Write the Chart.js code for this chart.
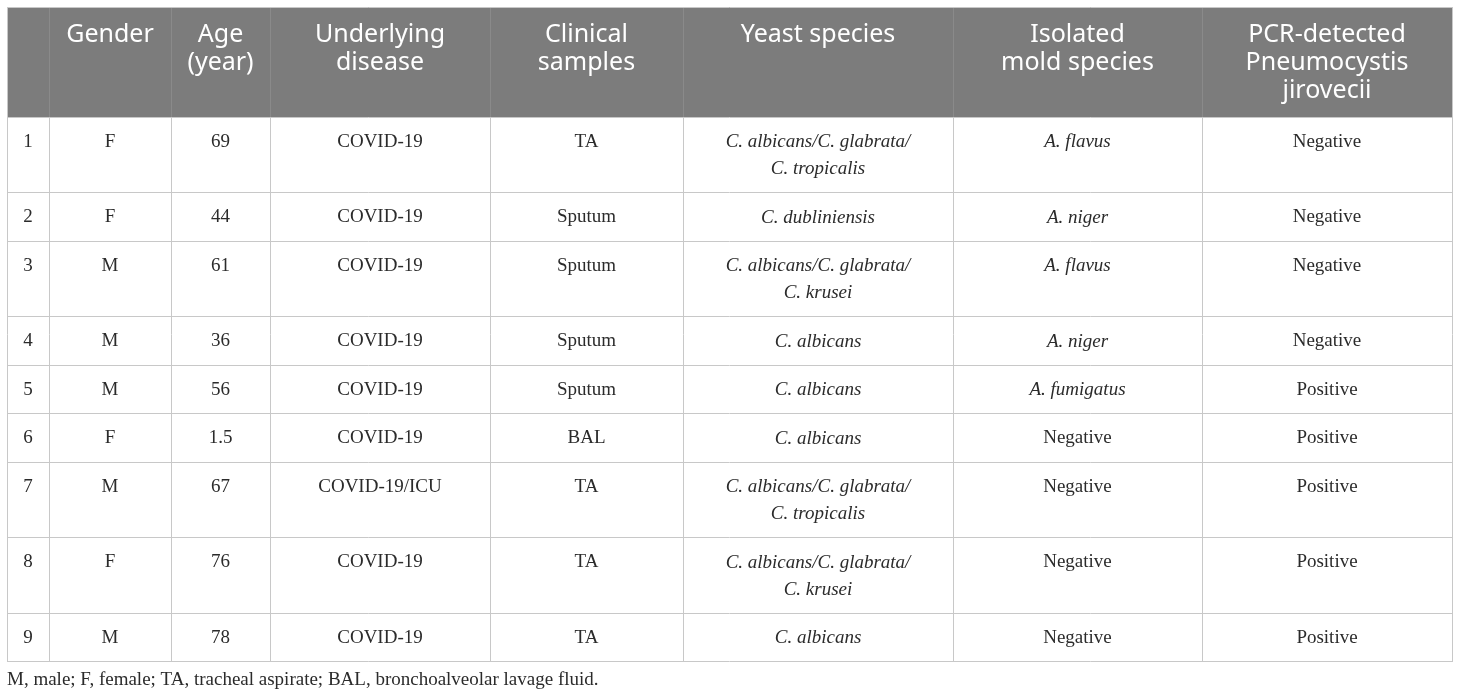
<!DOCTYPE html>
<html>
<head>
<meta charset="utf-8">
<script src="https://cdn.jsdelivr.net/npm/chart.js@4"></script>
<style>
  html, body { margin: 0; padding: 0; background: #ffffff; }
  #tableChart { display: block; }
</style>
</head>
<body>
<canvas id="tableChart" width="1460" height="700"></canvas>
<script>
// ============================================
// TABLE DATA (one array per column)
// ============================================
var headers = [[''], ['Gender'], ['Age', '(year)'], ['Underlying', 'disease'], ['Clinical', 'samples'],
    ['Yeast species'], ['Isolated', 'mold species'], ['PCR-detected', 'Pneumocystis', 'jirovecii']];

var caseNo = ['1', '2', '3', '4', '5', '6', '7', '8', '9'];
var gender = ['F', 'F', 'M', 'M', 'M', 'F', 'M', 'F', 'M'];
var age = ['69', '44', '61', '36', '56', '1.5', '67', '76', '78'];
var disease = ['COVID-19', 'COVID-19', 'COVID-19', 'COVID-19', 'COVID-19', 'COVID-19', 'COVID-19/ICU', 'COVID-19', 'COVID-19'];
var samples = ['TA', 'Sputum', 'Sputum', 'Sputum', 'Sputum', 'BAL', 'TA', 'TA', 'TA'];
var yeast = [
    ['C. albicans/C. glabrata/', 'C. tropicalis'],
    ['C. dubliniensis'],
    ['C. albicans/C. glabrata/', 'C. krusei'],
    ['C. albicans'],
    ['C. albicans'],
    ['C. albicans'],
    ['C. albicans/C. glabrata/', 'C. tropicalis'],
    ['C. albicans/C. glabrata/', 'C. krusei'],
    ['C. albicans']
];
var mold = ['A. flavus', 'A. niger', 'A. flavus', 'A. niger', 'A. fumigatus', 'Negative', 'Negative', 'Negative', 'Negative'];
var pcr = ['Negative', 'Negative', 'Negative', 'Negative', 'Positive', 'Positive', 'Positive', 'Positive', 'Positive'];

var footnote = 'M, male; F, female; TA, tracheal aspirate; BAL, bronchoalveolar lavage fluid.';

// ============================================
// LAYOUT (table units = pixels from the table's top-left corner)
// ============================================
var colEdges = [0, 42, 164, 263, 483, 676, 946, 1195, 1445];
var headerHeight = 110;
var headerFirstLine = 28;
var headerLineHeight = 28;
var rowPadding = 21.5;
var bodyFirstLine = 25;
var bodyLineHeight = 27;

var headerFont = '25px "Noto Sans"';
var bodyFont = '19px "Liberation Serif"';
var footFont = '19px "Liberation Serif"';
var headerBg = '#7c7c7c';
var lineColor = '#c8c8c8';
var textColor = '#2b2b2b';

function asLines(v) {
    return Array.isArray(v) ? v : [v];
}

// Row edges follow how many lines each row needs
var columns = [caseNo, gender, age, disease, samples, yeast, mold, pcr];
var rowEdges = [0, headerHeight];
var rowTops = [];
for (var r = 0; r < caseNo.length; r++) {
    var n = 1;
    columns.forEach(function (col) { n = Math.max(n, asLines(col[r]).length); });
    rowTops.push(rowEdges[rowEdges.length - 1]);
    rowEdges.push(rowEdges[rowEdges.length - 1] + rowPadding + n * bodyLineHeight);
}
var tableBottom = rowEdges[rowEdges.length - 1];

// One anchor point per line of text
var cellPoints = [];
headers.forEach(function (h, c) {
    h.forEach(function (txt, k) {
        cellPoints.push({
            x: (colEdges[c] + colEdges[c + 1]) / 2,
            y: headerFirstLine + k * headerLineHeight,
            text: txt, kind: 'header'
        });
    });
});
columns.forEach(function (col, c) {
    col.forEach(function (val, r) {
        asLines(val).forEach(function (txt, k) {
            cellPoints.push({
                x: (colEdges[c] + colEdges[c + 1]) / 2,
                y: rowTops[r] + bodyFirstLine + k * bodyLineHeight,
                text: txt, kind: 'body',
                italic: /^[A-Z]\. /.test(txt)
            });
        });
    });
});
cellPoints.push({x: 0, y: tableBottom + 19, text: footnote, kind: 'foot'});

// Header band under the grid, then soften the grid lines inside it
var headerBand = {
    id: 'headerBand',
    beforeDraw: function (chart) {
        var ctx = chart.ctx, x = chart.scales.x, y = chart.scales.y;
        ctx.save();
        ctx.fillStyle = headerBg;
        ctx.fillRect(x.getPixelForValue(0), y.getPixelForValue(0),
                x.getPixelForValue(colEdges[colEdges.length - 1]) - x.getPixelForValue(0),
                y.getPixelForValue(headerHeight) - y.getPixelForValue(0));
        ctx.restore();
    },
    beforeDatasetsDraw: function (chart) {
        var ctx = chart.ctx, x = chart.scales.x, y = chart.scales.y;
        ctx.save();
        ctx.fillStyle = 'rgba(124,124,124,0.82)';
        ctx.fillRect(x.getPixelForValue(0) + 1, y.getPixelForValue(0) + 1,
                x.getPixelForValue(colEdges[colEdges.length - 1]) - x.getPixelForValue(0) - 1,
                y.getPixelForValue(headerHeight) - y.getPixelForValue(0) - 1);
        ctx.restore();
    }
};

// Draw the cell text at each anchor point
var cellText = {
    id: 'cellText',
    afterDatasetsDraw: function (chart) {
        var ctx = chart.ctx;
        var meta = chart.getDatasetMeta(0);
        ctx.save();
        ctx.textBaseline = 'middle';
        meta.data.forEach(function (pt, i) {
            var d = cellPoints[i];
            if (d.kind === 'header') {
                ctx.font = headerFont;
                ctx.fillStyle = '#ffffff';
                ctx.textAlign = 'center';
            } else if (d.kind === 'foot') {
                ctx.font = footFont;
                ctx.fillStyle = textColor;
                ctx.textAlign = 'left';
            } else {
                ctx.font = (d.italic ? 'italic ' : '') + bodyFont;
                ctx.fillStyle = textColor;
                ctx.textAlign = 'center';
            }
            ctx.fillText(d.text, pt.x, pt.y);
        });
        ctx.restore();
    }
};

var ctx = document.getElementById('tableChart').getContext('2d');
new Chart(ctx, {
    type: 'scatter',
    data: {
        datasets: [{
                data: cellPoints,
                pointRadius: 0,
                pointHoverRadius: 0
            }]
    },
    options: {
        responsive: false,
        animation: false,
        events: [],
        layout: {padding: {left: 7, top: 7, right: 8, bottom: 700 - 7 - tableBottom}},
        plugins: {
            legend: {display: false},
            tooltip: {enabled: false}
        },
        scales: {
            x: {
                type: 'linear',
                min: 0,
                max: colEdges[colEdges.length - 1],
                afterBuildTicks: function (scale) {
                    scale.ticks = colEdges.map(function (v) { return {value: v}; });
                },
                grid: {color: lineColor, lineWidth: 1, drawTicks: false},
                border: {display: false},
                ticks: {display: false}
            },
            y: {
                type: 'linear',
                reverse: true,
                min: 0,
                max: tableBottom,
                afterBuildTicks: function (scale) {
                    scale.ticks = rowEdges.map(function (v) { return {value: v}; });
                },
                grid: {color: lineColor, lineWidth: 1, drawTicks: false},
                border: {display: false},
                ticks: {display: false}
            }
        }
    },
    plugins: [headerBand, cellText]
});
</script>
</body>
</html>
